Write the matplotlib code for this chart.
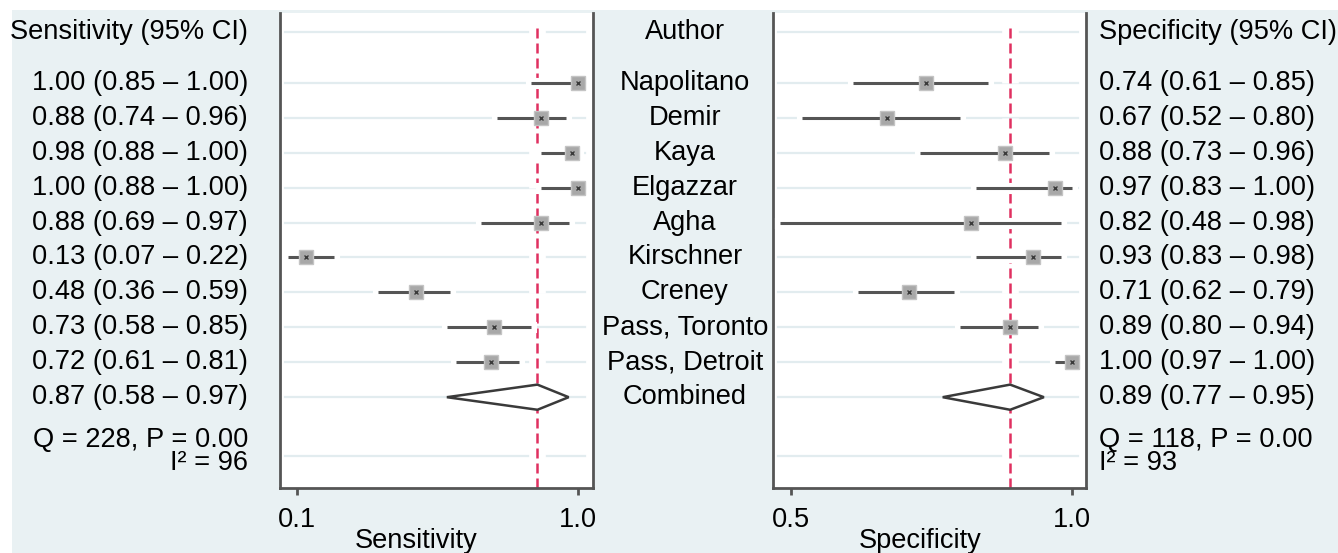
import numpy as np
import matplotlib
matplotlib.use('Agg')
import matplotlib.pyplot as plt
import matplotlib.patheffects as pe
from matplotlib.patches import Rectangle, Polygon
from matplotlib.transforms import blended_transform_factory

plt.rcParams['font.family'] = ['Liberation Sans', 'DejaVu Sans']

# data
authors = ['Napolitano', 'Demir', 'Kaya', 'Elgazzar', 'Agha', 'Kirschner',
           'Creney', 'Pass, Toronto', 'Pass, Detroit']
sens = [1.00, 0.88, 0.98, 1.00, 0.88, 0.13, 0.48, 0.73, 0.72]
sens_lo = [0.85, 0.74, 0.88, 0.88, 0.69, 0.07, 0.36, 0.58, 0.61]
sens_hi = [1.00, 0.96, 1.00, 1.00, 0.97, 0.22, 0.59, 0.85, 0.81]
spec = [0.74, 0.67, 0.88, 0.97, 0.82, 0.93, 0.71, 0.89, 1.00]
spec_lo = [0.61, 0.52, 0.73, 0.83, 0.48, 0.83, 0.62, 0.80, 0.97]
spec_hi = [0.85, 0.80, 0.96, 1.00, 0.98, 0.98, 0.79, 0.94, 1.00]
sens_comb = (0.87, 0.58, 0.97)
spec_comb = (0.89, 0.77, 0.95)
sens_het = ['Q = 228, P = 0.00', 'I\u00b2 = 96']
spec_het = ['Q = 118, P = 0.00', 'I\u00b2 = 93']
sens_ticks = [0.1, 1.0]
spec_ticks = [0.5, 1.0]

# row layout (row units)
rows = np.arange(1, len(authors) + 1)
comb_row = len(authors) + 1
head_row = -0.46
extra_grid = 11.69
het_row = 11.56

bg = '#e9f1f3'
grid_c = '#e2ecef'
dark = '#555555'
red = '#e03060'
FS = 19.6

fig = plt.figure(figsize=(13.38, 5.53), dpi=100, facecolor='white')
fig.patches.append(Rectangle((12 / 1338, 0), 1, 1 - 10 / 553, transform=fig.transFigure,
                             facecolor=bg, edgecolor='none', zorder=-10))

ax1 = fig.add_axes([280 / 1338, 65 / 553, 313 / 1338, 475 / 553])
ax2 = fig.add_axes([773 / 1338, 65 / 553, 313 / 1338, 475 / 553])


def forest(ax, est, lo, hi, comb, xlim, ticks, xlabel, lab_x):
    ax.set_xlim(*xlim)
    ax.set_ylim(12.6, -1.0)
    ax.spines['top'].set_visible(False)
    for s in ['left', 'right', 'bottom']:
        ax.spines[s].set_color(dark)
        ax.spines[s].set_linewidth(2.0)
    ax.set_yticks([])
    ax.set_xticks(ticks)
    ax.set_xticklabels(['%.1f' % t for t in ticks], fontsize=FS)
    ax.tick_params(axis='x', length=5, width=2, color=dark, pad=9)
    ax.set_xlabel(xlabel, fontsize=FS, labelpad=0)
    ax.xaxis.set_label_coords(lab_x, -0.085)

    for y in [head_row] + list(rows) + [comb_row, extra_grid]:
        ax.axhline(y, xmin=0.015, xmax=0.975, color=grid_c, lw=1.6, zorder=1)

    halo = [pe.Stroke(linewidth=8, foreground='white', capstyle='projecting'), pe.Normal()]
    ax.axvline(comb[0], ymin=0.0, ymax=0.98, color=red, lw=1.8, ls=(0, (4, 2)),
               zorder=2, path_effects=[pe.Stroke(linewidth=12, foreground='white'), pe.Normal()])

    for y, e, l, h in zip(rows, est, lo, hi):
        ax.plot([l, h], [y, y], color=dark, lw=2.2, zorder=3, path_effects=halo,
                solid_capstyle='butt')
        ax.plot(e, y, marker='s', ms=10, mfc='#a8a8a8', mec='#c4c4c4', mew=1, zorder=4)
        ax.plot(e, y, marker='x', ms=3.5, color='#3a3a3a', mew=1, zorder=5)

    c, l, h = comb
    dia = Polygon([[l, comb_row], [c, comb_row - 0.36], [h, comb_row], [c, comb_row + 0.36]],
                  closed=True, facecolor='white', edgecolor='#3a3a3a', lw=1.8, zorder=4)
    ax.add_patch(dia)


forest(ax1, sens, sens_lo, sens_hi, sens_comb, (0.0455, 1.048), sens_ticks,
       'Sensitivity', 0.435)
forest(ax2, spec, spec_lo, spec_hi, spec_comb, (0.468, 1.025), spec_ticks,
       'Specificity', 0.47)

# text columns
tl = blended_transform_factory(fig.transFigure, ax1.transData)
tr = blended_transform_factory(fig.transFigure, ax2.transData)
xl = 248 / 1338
xm = 685 / 1338
xr = 1099 / 1338

fig.text(xl, head_row, 'Sensitivity (95% CI)', transform=tl, ha='right', va='center', fontsize=FS)
fig.text(xm, head_row, 'Author', transform=tl, ha='center', va='center', fontsize=FS)
fig.text(xr, head_row, 'Specificity (95% CI)', transform=tr, ha='left', va='center', fontsize=FS)

for y, name, e, l, h in zip(rows, authors, sens, sens_lo, sens_hi):
    fig.text(xl, y, '%.2f (%.2f \u2013 %.2f)' % (e, l, h), transform=tl,
             ha='right', va='center', fontsize=FS)
    fig.text(xm, y, name, transform=tl, ha='center', va='center', fontsize=FS)
for y, e, l, h in zip(rows, spec, spec_lo, spec_hi):
    fig.text(xr, y, '%.2f (%.2f \u2013 %.2f)' % (e, l, h), transform=tr,
             ha='left', va='center', fontsize=FS)

fig.text(xl, comb_row, '%.2f (%.2f \u2013 %.2f)' % sens_comb, transform=tl,
         ha='right', va='center', fontsize=FS)
fig.text(xm, comb_row, 'Combined', transform=tl, ha='center', va='center', fontsize=FS)
fig.text(xr, comb_row, '%.2f (%.2f \u2013 %.2f)' % spec_comb, transform=tr,
         ha='left', va='center', fontsize=FS)

# heterogeneity statistics, two tight lines in one text
fig.text(xl, het_row, '\n'.join(sens_het), transform=tl, ha='right', va='center',
         multialignment='right', linespacing=0.87, fontsize=FS)
fig.text(xr, het_row, '\n'.join(spec_het), transform=tr, ha='left', va='center',
         multialignment='left', linespacing=0.87, fontsize=FS)

fig.savefig('out.png', dpi=100, facecolor=fig.get_facecolor())
